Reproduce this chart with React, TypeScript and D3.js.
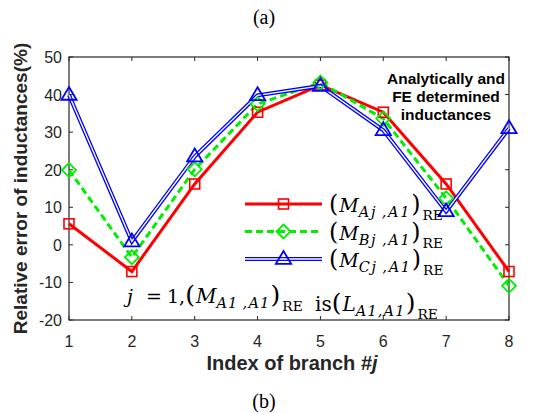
import React from "react";
import * as d3 from "d3";

const branches = [1, 2, 3, 4, 5, 6, 7, 8];
const seriesA = [5.6, -7.1, 16.2, 35.3, 42.5, 35.3, 16.2, -7.1];
const seriesB = [19.9, -3.3, 20.1, 37.5, 43.2, 33.6, 12.4, -10.9];
const seriesC = [39.9, 0.9, 23.5, 39.8, 42.3, 30.5, 8.9, 31.0];
const yTicks = [-20, -10, 0, 10, 20, 30, 40, 50];

const W = 550, H = 413;
const L = 69, R = 509, T = 57, B = 320;

const x = d3.scaleLinear().domain([1, 8]).range([L, R]);
const y = d3.scaleLinear().domain([-20, 50]).range([B, T]);
const line = d3.line<number>().x((_, i) => x(branches[i])).y((d) => y(d));

const axisColor = "#262626";
const sans = "Arial, 'Liberation Sans', sans-serif";
const serif = "'Liberation Serif', 'Times New Roman', serif";
const mathFont = "'DejaVu Serif', serif";

function Square({ cx, cy }: { cx: number; cy: number }) {
  return <rect x={cx - 5} y={cy - 5} width={10} height={10} fill="none" stroke="#ff0000" strokeWidth={1.6} />;
}
function Diamond({ cx, cy }: { cx: number; cy: number }) {
  const r = 7;
  return <path d={`M${cx},${cy - r}L${cx + r},${cy}L${cx},${cy + r}L${cx - r},${cy}Z`} fill="none" stroke="#00ee00" strokeWidth={1.8} />;
}
function Tri({ cx, cy }: { cx: number; cy: number }) {
  const r = 8;
  return <path d={`M${cx},${cy - r}L${cx + r * 0.95},${cy + r * 0.6}L${cx - r * 0.95},${cy + r * 0.6}Z`} fill="none" stroke="#0000ff" strokeWidth={1.8} />;
}

function MathTerm({ letter, sub, mainSize, subSize, subSpacing }: { letter: string; sub: string; mainSize: number; subSize: number; subSpacing: number }) {
  return (
    <>
      <tspan fontSize={mainSize * 1.25}>(</tspan>
      <tspan fontStyle="italic" fontSize={mainSize} dx={1}>{letter}</tspan>
      <tspan fontStyle="italic" fontSize={subSize} dy={5} letterSpacing={subSpacing}>{sub}</tspan>
      <tspan fontSize={mainSize * 1.25} dy={-5}>)</tspan>
      <tspan fontSize={subSize * 0.95} dy={8} dx={2}>RE</tspan>
      <tspan dy={-8}></tspan>
    </>
  );
}

export default function App() {
  const legendRows = [
    { y: 204, kind: "A", sub: "Aj\u2009,A1" },
    { y: 231.5, kind: "B", sub: "Bj\u2009,A1" },
    { y: 259, kind: "C", sub: "Cj\u2009,A1" },
  ];
  return (
    <svg width={W} height={H} style={{ display: "block", position: "absolute", left: 0, top: 0 }}>
      <rect width={W} height={H} fill="#fff" />
      <text x={264} y={24} fontFamily={serif} fontSize={20} textAnchor="middle">(a)</text>
      <text x={264} y={408} fontFamily={serif} fontSize={20} textAnchor="middle">(b)</text>

      {/* axes box */}
      <rect x={L} y={T} width={R - L} height={B - T} fill="none" stroke={axisColor} strokeWidth={1.2} />
      {branches.map((b) => (
        <g key={"xt" + b}>
          <line x1={x(b)} x2={x(b)} y1={B} y2={B - 4} stroke={axisColor} />
          <line x1={x(b)} x2={x(b)} y1={T} y2={T + 4} stroke={axisColor} />
          <text x={x(b)} y={347} fontFamily={sans} fontSize={16} fill={axisColor} textAnchor="middle">{b}</text>
        </g>
      ))}
      {yTicks.map((t) => (
        <g key={"yt" + t}>
          <line x1={L} x2={L + 4} y1={y(t)} y2={y(t)} stroke={axisColor} />
          <line x1={R} x2={R - 4} y1={y(t)} y2={y(t)} stroke={axisColor} />
          <text x={62} y={y(t) + 6} fontFamily={sans} fontSize={16} fill={axisColor} textAnchor="end">{t}</text>
        </g>
      ))}
      <text x={292} y={370} fontFamily={sans} fontSize={20} fontWeight="bold" fill={axisColor} textAnchor="middle">
        Index of branch #<tspan fontStyle="italic">j</tspan>
      </text>
      <text transform={`translate(27,${(40 + 337) / 2}) rotate(-90)`} fontFamily={sans} fontSize={19} fontWeight="bold" fill={axisColor} textAnchor="middle">
        Relative error of inductances(%)
      </text>

      {/* series */}
      <path d={line(seriesA) || ""} fill="none" stroke="#ff0000" strokeWidth={3} />
      <path d={line(seriesB) || ""} fill="none" stroke="#00ee00" strokeWidth={3} strokeDasharray="7,4" />
      <path d={line(seriesC) || ""} fill="none" stroke="#0000ff" strokeWidth={4} />
      <path d={line(seriesC) || ""} fill="none" stroke="#ffffff" strokeWidth={1.4} />
      {seriesA.map((v, i) => <Square key={"a" + i} cx={x(branches[i])} cy={y(v)} />)}
      {seriesB.map((v, i) => <Diamond key={"b" + i} cx={x(branches[i])} cy={y(v)} />)}
      {seriesC.map((v, i) => <Tri key={"c" + i} cx={x(branches[i])} cy={y(v)} />)}

      {/* annotation */}
      <g fontFamily={sans} fontSize={15.5} fontWeight="bold" textAnchor="middle" fill="#000">
        <text x={446} y={84}>Analytically and</text>
        <text x={446} y={102}>FE determined</text>
        <text x={446} y={120}>inductances</text>
      </g>

      {/* legend */}
      {legendRows.map((r) => (
        <g key={r.kind}>
          {r.kind === "A" && <path d={`M245,${r.y}H322`} stroke="#ff0000" strokeWidth={3} />}
          {r.kind === "B" && <path d={`M245,${r.y}H322`} stroke="#00ee00" strokeWidth={3} strokeDasharray="7,4" />}
          {r.kind === "C" && (
            <>
              <path d={`M245,${r.y}H322`} stroke="#0000ff" strokeWidth={4} />
              <path d={`M245,${r.y}H322`} stroke="#ffffff" strokeWidth={1.4} />
            </>
          )}
          {r.kind === "A" && <Square cx={283.5} cy={r.y} />}
          {r.kind === "B" && <Diamond cx={283.5} cy={r.y} />}
          {r.kind === "C" && <Tri cx={283.5} cy={r.y} />}
          <text x={329} y={r.y + 8} fontFamily={mathFont} fill="#000">
            <MathTerm letter="M" sub={r.sub} mainSize={19} subSize={14.5} subSpacing={1.7} />
          </text>
        </g>
      ))}

      {/* bottom note */}
      <text y={303} fontFamily={mathFont} fill="#000" fontSize={19}>
        <tspan x={127} fontStyle="italic">j</tspan>
        <tspan x={146}>=</tspan>
        <tspan x={167}>1,</tspan>
        <tspan x={192}></tspan>
        <MathTerm letter="M" sub={"A1\u2009,A1"} mainSize={20} subSize={14.5} subSpacing={1.2} />
        <tspan x={315} fontSize={20}>is</tspan>
        <tspan x={335}></tspan>
        <MathTerm letter="L" sub="A1,A1" mainSize={20} subSize={14.5} subSpacing={1.2} />
      </text>
    </svg>
  );
}
